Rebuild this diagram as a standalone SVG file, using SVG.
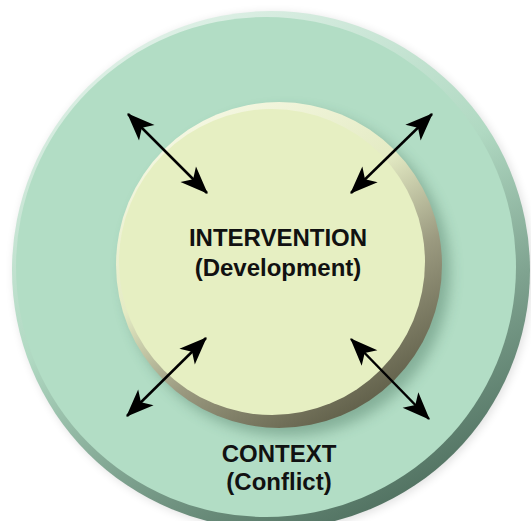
<svg xmlns="http://www.w3.org/2000/svg" width="531" height="521" viewBox="0 0 531 521">
  <defs>
    <style>
      .lbl { font-family: "Liberation Sans", Arial, sans-serif; font-weight: bold; font-size: 24px; fill: #111; text-anchor: middle; }
      .conn { stroke: #000; stroke-width: 2.5; fill: none; marker-start: url(#ah); marker-end: url(#ah); }
    </style>
    <linearGradient id="outerRim" x1="0.25" y1="0" x2="0.75" y2="1">
      <stop offset="0" stop-color="#e2f2e9"/>
      <stop offset="0.45" stop-color="#b0d9c2"/>
      <stop offset="0.7" stop-color="#7fa390"/>
      <stop offset="1" stop-color="#4a6a5a"/>
    </linearGradient>
    <linearGradient id="innerRim" x1="0.2" y1="0" x2="0.8" y2="1">
      <stop offset="0" stop-color="#f7f9e6"/>
      <stop offset="0.4" stop-color="#e4ebc4"/>
      <stop offset="0.65" stop-color="#9b9a80"/>
      <stop offset="1" stop-color="#55543f"/>
    </linearGradient>
    <filter id="soft" x="-20%" y="-20%" width="140%" height="140%">
      <feGaussianBlur stdDeviation="7"/>
    </filter>
    <filter id="softOuter" x="-20%" y="-20%" width="140%" height="140%">
      <feGaussianBlur stdDeviation="5"/>
    </filter>
    <marker id="ah" markerUnits="userSpaceOnUse" markerWidth="30" markerHeight="30" viewBox="-24 -12 26 24" refX="0" refY="0" orient="auto-start-reverse">
      <path d="M1,0 L-23,-9.5 L-17,0 L-23,9.5 Z" fill="#000"/>
    </marker>
  </defs>

  <g id="context">
    <circle cx="273" cy="272" r="259" fill="#000" opacity="0.12" filter="url(#softOuter)"/>
    <circle cx="271" cy="270" r="259" fill="url(#outerRim)"/>
    <circle cx="266" cy="267" r="250" fill="#b2ddc5"/>
    <text class="lbl" x="279" y="462">CONTEXT</text>
    <text class="lbl" x="279" y="490">(Conflict)</text>
  </g>

  <g id="intervention">
    <circle cx="287" cy="273" r="163" fill="#2f5a45" opacity="0.35" filter="url(#soft)"/>
    <circle cx="279" cy="265" r="163" fill="url(#innerRim)"/>
    <circle cx="272" cy="262" r="153" fill="#e6efc2"/>
    <text class="lbl" x="278" y="246">INTERVENTION</text>
    <text class="lbl" x="278" y="276">(Development)</text>
  </g>

  <g id="connectors">
    <line class="conn" x1="128" y1="114" x2="207" y2="193"/>
    <line class="conn" x1="432" y1="114" x2="351" y2="193"/>
    <line class="conn" x1="127" y1="416" x2="206" y2="338"/>
    <line class="conn" x1="351" y1="339" x2="429" y2="419"/>
  </g>
</svg>
